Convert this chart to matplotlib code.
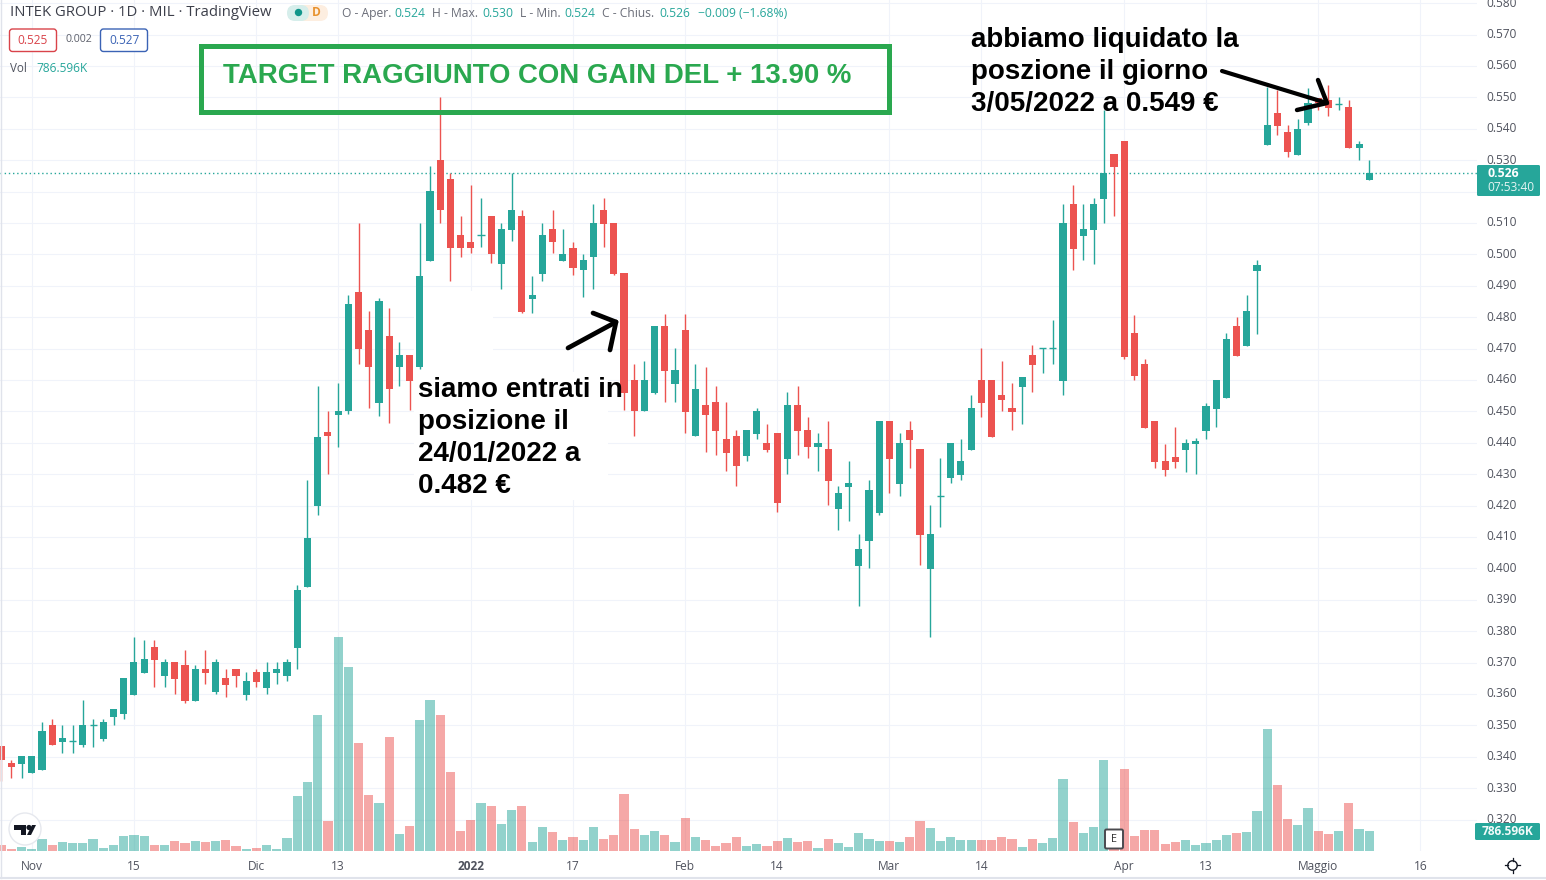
"""INTEK GROUP daily candlesticks with volume, TradingView screenshot style."""

import matplotlib
matplotlib.use("Agg")
import matplotlib.pyplot as plt
import numpy as np
from matplotlib.patches import Circle, FancyBboxPatch, Polygon, Rectangle

plt.rcParams["font.family"] = ["Open Sans", "DejaVu Sans"]

GREEN = "#26a69a"
RED = "#ec5350"
GRID = "#f0f3fa"
AXIS_TEXT = "#50535e"
BOX_GREEN = "#2aa84f"

WIDTH, HEIGHT = 1546, 880
PANEL_RIGHT, PANEL_BOTTOM = 1477, 851

opens = [
    0.3434, 0.3381, 0.3378, 0.3349, 0.3359, 0.3501, 0.3447, 0.3449, 0.3438, 0.3500,
    0.3456, 0.3526, 0.3536, 0.3596, 0.3667, 0.3749, 0.3657, 0.3702, 0.3692, 0.3577,
    0.3679, 0.3606, 0.3651, 0.3679, 0.3596, 0.3670, 0.3619, 0.3667, 0.3657, 0.3746,
    0.3941, 0.4199, 0.4433, 0.4490, 0.4500, 0.4881, 0.4760, 0.4528, 0.4741, 0.4640,
    0.4680, 0.4640, 0.4980, 0.5301, 0.5241, 0.5062, 0.5040, 0.5061, 0.5123, 0.4968,
    0.5079, 0.5123, 0.4858, 0.4939, 0.5081, 0.4980, 0.5021, 0.4949, 0.4990, 0.5142,
    0.5099, 0.4941, 0.4600, 0.4500, 0.4560, 0.4772, 0.4587, 0.4759, 0.4420, 0.4521,
    0.4530, 0.4412, 0.4422, 0.4358, 0.4428, 0.4400, 0.4431, 0.4349, 0.4521, 0.4441,
    0.4387, 0.4380, 0.4189, 0.4259, 0.4008, 0.4087, 0.4177, 0.4470, 0.4269, 0.4441,
    0.4380, 0.3998, 0.4230, 0.4288, 0.4298, 0.4378, 0.4600, 0.4600, 0.4553, 0.4511,
    0.4578, 0.4680, 0.4701, 0.4701, 0.4597, 0.5161, 0.5059, 0.5078, 0.5177, 0.5320,
    0.5362, 0.4750, 0.4651, 0.4470, 0.4342, 0.4355, 0.4378, 0.4397, 0.4438, 0.4508,
    0.4543, 0.4772, 0.4709, 0.4948, 0.5348, 0.5450, 0.5390, 0.5316, 0.5418, 0.5497,
    0.5491, 0.5480, 0.5469, 0.5339, 0.5237,
]
highs = [
    0.3434, 0.3389, 0.3402, 0.3402, 0.3510, 0.3520, 0.3501, 0.3501, 0.3581, 0.3520,
    0.3520, 0.3552, 0.3651, 0.3781, 0.3772, 0.3772, 0.3711, 0.3702, 0.3740, 0.3692,
    0.3740, 0.3711, 0.3679, 0.3679, 0.3670, 0.3679, 0.3702, 0.3702, 0.3711, 0.3947,
    0.4282, 0.4581, 0.4502, 0.4590, 0.4871, 0.5099, 0.4820, 0.4862, 0.4830, 0.4722,
    0.4680, 0.5099, 0.5282, 0.5501, 0.5259, 0.5123, 0.5221, 0.5180, 0.5123, 0.5099,
    0.5259, 0.5142, 0.4932, 0.5099, 0.5142, 0.5081, 0.5040, 0.5002, 0.5161, 0.5180,
    0.5099, 0.4941, 0.4650, 0.4660, 0.4772, 0.4810, 0.4702, 0.4810, 0.4651, 0.4642,
    0.4581, 0.4530, 0.4441, 0.4441, 0.4511, 0.4460, 0.4431, 0.4562, 0.4581, 0.4482,
    0.4431, 0.4470, 0.4263, 0.4342, 0.4110, 0.4282, 0.4470, 0.4470, 0.4431, 0.4470,
    0.4380, 0.4202, 0.4352, 0.4400, 0.4412, 0.4552, 0.4702, 0.4600, 0.4661, 0.4591,
    0.4610, 0.4712, 0.4701, 0.4792, 0.5161, 0.5221, 0.5161, 0.5180, 0.5460, 0.5320,
    0.5362, 0.4807, 0.4667, 0.4470, 0.4397, 0.4451, 0.4413, 0.4416, 0.4527, 0.4600,
    0.4750, 0.4801, 0.4871, 0.4983, 0.5532, 0.5523, 0.5412, 0.5431, 0.5529, 0.5497,
    0.5539, 0.5501, 0.5492, 0.5361, 0.5300,
]
lows = [
    0.3322, 0.3333, 0.3333, 0.3349, 0.3359, 0.3438, 0.3413, 0.3413, 0.3432, 0.3432,
    0.3450, 0.3501, 0.3520, 0.3596, 0.3667, 0.3622, 0.3622, 0.3600, 0.3571, 0.3577,
    0.3631, 0.3600, 0.3590, 0.3622, 0.3581, 0.3622, 0.3600, 0.3631, 0.3641, 0.3679,
    0.3941, 0.4170, 0.4301, 0.4385, 0.4493, 0.4652, 0.4512, 0.4484, 0.4462, 0.4582,
    0.4503, 0.4634, 0.4980, 0.5100, 0.4914, 0.4993, 0.5003, 0.5022, 0.4971, 0.4891,
    0.5041, 0.4812, 0.4812, 0.4914, 0.5003, 0.4980, 0.4933, 0.4863, 0.4891, 0.5022,
    0.4933, 0.4503, 0.4423, 0.4500, 0.4555, 0.4530, 0.4530, 0.4432, 0.4420, 0.4371,
    0.4361, 0.4310, 0.4263, 0.4342, 0.4412, 0.4371, 0.4180, 0.4301, 0.4361, 0.4352,
    0.4310, 0.4202, 0.4123, 0.4151, 0.3880, 0.4002, 0.4170, 0.4240, 0.4231, 0.4320,
    0.4011, 0.3783, 0.4132, 0.4272, 0.4282, 0.4377, 0.4483, 0.4419, 0.4502, 0.4441,
    0.4460, 0.4562, 0.4623, 0.4651, 0.4553, 0.4951, 0.4983, 0.4970, 0.5100, 0.5123,
    0.4667, 0.4600, 0.4448, 0.4320, 0.4295, 0.4320, 0.4307, 0.4301, 0.4413, 0.4451,
    0.4543, 0.4677, 0.4709, 0.4747, 0.5348, 0.5380, 0.5310, 0.5316, 0.5412, 0.5460,
    0.5441, 0.5460, 0.5339, 0.5300, 0.5237,
]
closes = [
    0.3389, 0.3368, 0.3402, 0.3402, 0.3482, 0.3438, 0.3459, 0.3449, 0.3501, 0.3500,
    0.3510, 0.3552, 0.3651, 0.3702, 0.3711, 0.3708, 0.3702, 0.3647, 0.3577, 0.3679,
    0.3667, 0.3702, 0.3628, 0.3657, 0.3641, 0.3638, 0.3670, 0.3679, 0.3702, 0.3931,
    0.4097, 0.4418, 0.4420, 0.4502, 0.4842, 0.4700, 0.4640, 0.4852, 0.4570, 0.4680,
    0.4598, 0.4932, 0.5202, 0.5140, 0.5019, 0.5019, 0.5019, 0.5061, 0.5000, 0.5081,
    0.5142, 0.4818, 0.4871, 0.5062, 0.5038, 0.5002, 0.4958, 0.4983, 0.5099, 0.5097,
    0.4938, 0.4560, 0.4500, 0.4600, 0.4772, 0.4630, 0.4632, 0.4498, 0.4572, 0.4489,
    0.4438, 0.4368, 0.4326, 0.4441, 0.4501, 0.4377, 0.4208, 0.4521, 0.4438, 0.4387,
    0.4400, 0.4279, 0.4240, 0.4272, 0.4062, 0.4250, 0.4470, 0.4349, 0.4400, 0.4409,
    0.4107, 0.4110, 0.4230, 0.4400, 0.4342, 0.4511, 0.4527, 0.4419, 0.4537, 0.4499,
    0.4610, 0.4648, 0.4701, 0.4701, 0.5100, 0.5018, 0.5081, 0.5161, 0.5260, 0.5279,
    0.4674, 0.4613, 0.4448, 0.4339, 0.4314, 0.4339, 0.4400, 0.4406, 0.4518, 0.4600,
    0.4731, 0.4677, 0.4820, 0.4967, 0.5412, 0.5409, 0.5326, 0.5399, 0.5481, 0.5481,
    0.5466, 0.5480, 0.5339, 0.5351, 0.5259,
]
volumes_k = [
    236, 79, 157, 79, 472, 236, 354, 314, 314, 472,
    118, 236, 590, 629, 590, 236, 236, 393, 314, 393,
    354, 393, 432, 197, 79, 118, 236, 79, 511, 2162,
    2712, 5345, 1179, 8410, 7231, 4244, 2201, 1886, 4480, 668,
    983, 5148, 5934, 5345, 3105, 786, 1218, 1886, 1769, 1061,
    1611, 1769, 354, 943, 747, 432, 550, 432, 943, 472,
    629, 2240, 865, 629, 786, 629, 354, 1297, 550, 432,
    197, 314, 550, 197, 275, 197, 393, 511, 354, 393,
    118, 472, 314, 157, 707, 472, 393, 393, 354, 550,
    1179, 904, 393, 550, 432, 432, 432, 432, 550, 472,
    157, 472, 314, 511, 2830, 1140, 707, 943, 3576, 563,
    3223, 590, 825, 825, 275, 354, 432, 236, 314, 432,
    629, 707, 747, 1572, 4795, 2594, 1258, 1022, 1690, 786,
    668, 786, 1886, 865, 787,
]

price_ticks = [round(0.32 + 0.01 * k, 2) for k in range(27)]
date_ticks = [3, 13, 25, 33, 46, 56, 67, 76, 87, 96, 110, 118, 129, 139]
date_labels = ["Nov", "15", "Dic", "13", "2022", "17", "Feb", "14", "Mar", "14",
               "Apr", "13", "Maggio", "16"]
last_price = 0.526

o, h, l, c = map(np.array, (opens, highs, lows, closes))
idx = np.arange(len(c))
up = c >= o

fig = plt.figure(figsize=(WIDTH / 100, HEIGHT / 100), dpi=100, facecolor="white")
ax = fig.add_axes([0, 1 - PANEL_BOTTOM / HEIGHT, PANEL_RIGHT / WIDTH, PANEL_BOTTOM / HEIGHT])
ax.set_xlim(-0.1175, 144.55)
ax.set_ylim(0.3100, 0.5810)
ax.set_facecolor("white")
for spine in ax.spines.values():
    spine.set_visible(False)

ax.set_axisbelow(True)
ax.grid(True, color=GRID, linewidth=0.8)
ax.set_xticks(date_ticks)
ax.set_xticklabels(date_labels, fontsize=8.6, color=AXIS_TEXT)
ax.get_xticklabels()[4].set_fontweight("bold")
ax.set_yticks(price_ticks)
# the 0.520 label sits under the last price flag in the screenshot
ax.set_yticklabels(["" if p == 0.52 else f"{p:.3f}" for p in price_ticks],
                   fontsize=8.6, color=AXIS_TEXT, va="center")

# volume shares the panel, scaled so the tallest bar reaches about a quarter of it
vol_ax = ax.twinx()
vol_ax.set_ylim(0, 33440)
vol_ax.axis("off")
vol_ax.bar(idx[up], np.array(volumes_k)[up], width=0.9, color=GREEN, alpha=0.5, linewidth=0)
vol_ax.bar(idx[~up], np.array(volumes_k)[~up], width=0.9, color=RED, alpha=0.5, linewidth=0)

# candles go on a third layer so they sit over the volume and the text patches
candle_ax = ax.twinx()
candle_ax.set_ylim(ax.get_ylim())
candle_ax.axis("off")
candle_ax.add_patch(Rectangle((40.4, 0.4218), 19, 0.0407, facecolor="white", edgecolor="none", zorder=0))
candle_ax.add_patch(Rectangle((40.4, 0.4625), 7.8, 0.0257, facecolor="white", edgecolor="none", zorder=0))
candle_ax.axhline(last_price, color=GREEN, linewidth=1, linestyle=(0, (1, 2)), zorder=1)
colors = np.where(up, GREEN, RED)
candle_ax.vlines(idx, l, h, colors=colors, linewidth=1, zorder=2)
candle_ax.bar(idx, np.abs(c - o), bottom=np.minimum(o, c), width=0.7, color=colors, linewidth=0, zorder=3)
doji = o == c
candle_ax.hlines(c[doji], idx[doji] - 0.35, idx[doji] + 0.35, colors=colors[doji], linewidth=1, zorder=3)

# twinx moves the host ticks to the left, so put the scale back on the right here
ax.yaxis.tick_right()
ax.tick_params(axis="both", length=0)
ax.tick_params(axis="x", pad=6.5)
ax.tick_params(axis="y", pad=7)

# everything else is screenshot chrome, placed in figure pixels
ui = fig.add_axes([0, 0, 1, 1])
ui.set_xlim(0, WIDTH)
ui.set_ylim(HEIGHT, 0)
ui.axis("off")
ui.patch.set_alpha(0)

ui.plot([0, WIDTH], [878, 878], color="#e0e3eb", linewidth=1.5)
ui.plot([0.5, 0.5], [0, 878], color="#e0e3eb", linewidth=1)

ui.text(10, 12.5, "INTEK GROUP · 1D · MIL · TradingView", fontsize=10.7, color="#3c3f4a", va="center")
ui.add_patch(FancyBboxPatch((296, 5), 32, 16, boxstyle="round,pad=0,rounding_size=8",
                            facecolor="#fdeee0", edgecolor="none"))
ui.add_patch(FancyBboxPatch((287, 5), 22, 16, boxstyle="round,pad=0,rounding_size=8",
                            facecolor="#d6eeeb", edgecolor="none"))
ui.add_patch(Circle((298.5, 12.5), 3.7, facecolor="#11968a", edgecolor="none"))
ui.text(316, 12.5, "D", fontsize=8.6, color="#e8922e", ha="center", va="center", fontweight="bold")

ohlc_parts = [
    (342, "O - Aper.", "#6a6d78"), (394, "0.524", GREEN),
    (432.5, "H - Max.", "#6a6d78"), (482, "0.530", GREEN),
    (520.5, "L - Min.", "#6a6d78"), (564.5, "0.524", GREEN),
    (602.5, "C - Chius.", "#6a6d78"), (659.5, "0.526", GREEN),
    (698, "\u22120.009 (\u22121.68%)", GREEN),
]
for x, label, color in ohlc_parts:
    ui.text(x, 13.5, label, fontsize=8.7, color=color, va="center")

ui.add_patch(FancyBboxPatch((9.5, 29), 47, 22.5, boxstyle="round,pad=0,rounding_size=3",
                            facecolor="white", edgecolor="#d9434a", linewidth=1))
ui.text(33, 40.5, "0.525", fontsize=8.6, color="#d9434a", ha="center", va="center")
ui.text(78.5, 40, "0.002", fontsize=7.6, color="#5d606b", ha="center", va="center")
ui.add_patch(FancyBboxPatch((100.5, 29), 47, 22.5, boxstyle="round,pad=0,rounding_size=3",
                            facecolor="white", edgecolor="#3b63b5", linewidth=1))
ui.text(124, 40.5, "0.527", fontsize=8.6, color="#3b63b5", ha="center", va="center")
ui.text(10, 68.5, "Vol", fontsize=8.4, color="#50535e", va="center")
ui.text(36, 68.5, "786.596K", fontsize=8.6, color=GREEN, va="center")

ui.add_patch(Rectangle((200.5, 46.5), 688.5, 66, facecolor="none", edgecolor=BOX_GREEN, linewidth=3.6))
ui.text(223, 76, "TARGET RAGGIUNTO CON GAIN DEL + 13.90 %", family="Liberation Sans",
        fontsize=19.9, fontweight="bold", color=BOX_GREEN, va="center")

for y, line in zip([390, 422, 454, 486],
                   ["siamo entrati in", "posizione il", "24/01/2022 a", "0.482 €"]):
    ui.text(418, y, line, family="Liberation Sans", fontsize=20, fontweight="bold",
            color="black", va="center")
for y, line in zip([40, 72, 104],
                   ["abbiamo liquidato la", "poszione il giorno", "3/05/2022 a 0.549 €"]):
    ui.text(971, y, line, family="Liberation Sans", fontsize=20, fontweight="bold",
            color="black", va="center")

pen = dict(color="black", solid_capstyle="round", solid_joinstyle="round")
ui.plot([568, 616], [348, 322], linewidth=3.4, **pen)
ui.plot([593, 616, 610], [313, 322, 350], linewidth=3.4, **pen)
ui.plot([1222, 1327], [71, 103], linewidth=3, **pen)
ui.plot([1318, 1327, 1297], [80, 103, 110], linewidth=3.2, **pen)

# last price and last volume flags on the scale
ui.add_patch(FancyBboxPatch((1477, 165), 63, 31, boxstyle="round,pad=0,rounding_size=1.5",
                            facecolor=GREEN, edgecolor="none"))
ui.text(1487, 173.5, "0.526", fontsize=8.8, fontweight="bold", color="white", va="center")
ui.text(1487, 187.5, "07:53:40", fontsize=8.6, color="#e6f5f3", va="center")
ui.add_patch(FancyBboxPatch((1475, 823), 65, 17, boxstyle="round,pad=0,rounding_size=1.5",
                            facecolor=GREEN, edgecolor="none"))
ui.text(1507.5, 831.5, "786.596K", fontsize=8.6, fontweight="bold", color="#f2fbfa",
        ha="center", va="center")

# TradingView logo
ui.add_patch(Circle((25, 829), 16, facecolor="white", edgecolor="#e6e8ee", linewidth=1))
ui.add_patch(Polygon([(14, 825), (26, 825), (26, 835), (21, 835), (21, 830), (14, 830)], facecolor="#131722"))
ui.add_patch(Circle((29, 827.5), 2.6, facecolor="#131722"))
ui.add_patch(Polygon([(31, 835), (27, 835), (32, 825), (36, 825)], facecolor="#131722"))

# earnings marker
ui.add_patch(FancyBboxPatch((1105, 829.5), 18, 19, boxstyle="round,pad=0,rounding_size=1.5",
                            facecolor="white", edgecolor="#4a4a4f", linewidth=1.4))
ui.text(1114, 839.5, "E", fontsize=7.8, color="#333333", ha="center", va="center")

# theme toggle in the corner
ui.add_patch(Circle((1512.5, 865.5), 4.7, facecolor="none", edgecolor="#131722", linewidth=1))
for angle in np.deg2rad(np.arange(0, 360, 90)):
    ui.plot([1512.5 + 4.7 * np.cos(angle), 1512.5 + 7.3 * np.cos(angle)],
            [865.5 + 4.7 * np.sin(angle), 865.5 + 7.3 * np.sin(angle)],
            color="#131722", linewidth=0.9)

fig.savefig("out.png", dpi=100, facecolor="white")
plt.close(fig)
